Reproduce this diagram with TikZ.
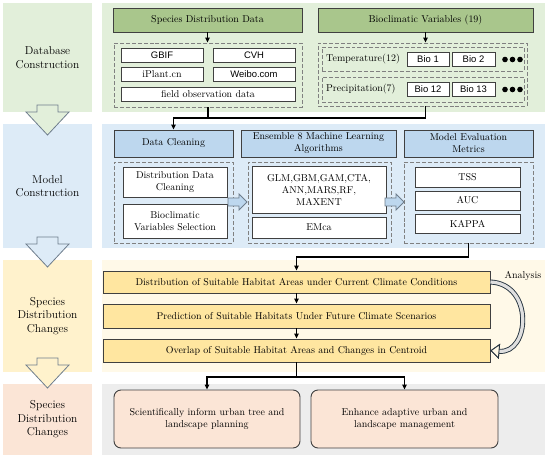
\documentclass[tikz,border=0pt]{standalone}
\usepackage{fontspec}
\newfontfamily\arialf{Liberation Sans}
\usetikzlibrary{arrows.meta}

\definecolor{grnbg}{RGB}{226,239,218}
\definecolor{grnhd}{RGB}{169,198,140}
\definecolor{blubg}{RGB}{221,235,247}
\definecolor{bluhd}{RGB}{189,215,238}
\definecolor{ylwbg}{RGB}{255,242,204}
\definecolor{ylwlt}{RGB}{255,249,232}
\definecolor{ylwbx}{RGB}{255,230,160}
\definecolor{pnkbg}{RGB}{251,229,214}
\definecolor{grybg}{RGB}{237,237,237}
\definecolor{edgec}{RGB}{64,64,64}
\definecolor{slate}{RGB}{38,52,64}
\definecolor{arrln}{RGB}{110,125,140}

\def\fs{\fontsize{10}{12}\selectfont}
\tikzstyle{pnl}=[rectangle,inner sep=0pt,align=center,font=\fontsize{11.5}{13.5}\selectfont]
\tikzstyle{hd}=[rectangle,draw=edgec,line width=0.9pt,inner sep=1pt,align=center,font=\fs]
\tikzstyle{dsh}=[rectangle,draw=gray,line width=0.9pt,dash pattern=on 4pt off 2pt]
\tikzstyle{wb}=[rectangle,draw=edgec,fill=white,line width=0.7pt,inner sep=1pt,align=center,font=\fs]
\tikzstyle{wbs}=[wb,font=\arialf\fontsize{9.5}{11}\selectfont]
\tikzstyle{yb}=[hd,fill=ylwbx]
\tikzstyle{pk}=[hd,fill=pnkbg,rounded corners=7bp]
\tikzstyle{arr}=[-{Triangle[length=5bp,width=4.5bp]},line width=1.1pt,black]
\tikzstyle{ln}=[line width=1.1pt,black]
\tikzstyle{blk}=[draw=arrln,line width=0.8pt]
\tikzstyle{anl}=[-{Triangle[length=9bp,width=15bp,line width=0.9bp,fill=ylwlt,color=slate]}]
\tikzset{sz/.style 2 args={minimum width=#1bp,minimum height=#2bp}}

% block arrows
\newcommand{\dnarr}[3]{\draw[blk,fill=#3] (#1-10.5,#2) -- (#1+10.5,#2) -- (#1+10.5,#2+7) -- (#1+21.5,#2+7) -- (#1,#2+30) -- (#1-21.5,#2+7) -- (#1-10.5,#2+7) -- cycle;}
\newcommand{\rtarr}[2]{\draw[blk,fill=bluhd] (#1,#2-4) -- (#1+11,#2-4) -- (#1+11,#2-8) -- (#1+19,#2) -- (#1+11,#2+8) -- (#1+11,#2+4) -- (#1,#2+4) -- cycle;}

\begin{document}
\begin{tikzpicture}[x=1bp,y=-1bp]
\useasboundingbox (0,0) rectangle (550,459);

% panels
\node[pnl,fill=grnbg,sz={89}{109}](dbL) at (47.5,57.5){Database\\Construction};
\node[pnl,fill=grnbg,sz={443}{109}](dbR) at (323.5,57.5){};
\node[pnl,fill=blubg,sz={89}{124}](mcL) at (47.5,186){Model\\Construction};
\node[pnl,fill=blubg,sz={443}{124}](mcR) at (323.5,186){};
\node[pnl,fill=ylwbg,sz={89}{112}](sdL) at (47.5,316){Species\\Distribution\\Changes};
\node[pnl,fill=ylwlt,sz={443}{112}](sdR) at (323.5,316){};
\node[pnl,fill=pnkbg,sz={89}{71}](ocL) at (47.5,419.5){Species\\Distribution\\Changes};
\node[pnl,fill=grybg,sz={443}{71}](ocR) at (323.5,419.5){};

\dnarr{47.5}{105}{grnbg}
\dnarr{47.5}{237}{blubg}
\dnarr{47.5}{358}{ylwbg}

% database construction
\node[hd,fill=grnhd,sz={189}{24}](sdd) at (207.5,20){Species Distribution Data};
\node[hd,fill=grnhd,sz={215}{24}](bcv) at (425.5,20){Bioclimatic Variables (19)};
\node[dsh,sz={188}{64}](sddash) at (208,75){};
\node[wbs,sz={82}{14}](gbif) at (162,55){GBIF};
\node[wbs,sz={82}{14}](cvh) at (254,55){CVH};
\node[wb,sz={82}{14}](iplant) at (162,74){iPlant.cn};
\node[wbs,sz={82}{14}](weibo) at (254,74){Weibo.com};
\node[wb,sz={174}{14}](field) at (208,94){field observation data};
\node[dsh,sz={209}{63}](bcdash) at (422.5,74.5){};
\node[dsh,sz={202}{24}](temprow) at (423,59){};
\node[dsh,sz={202}{25}](precrow) at (423,89.5){};
\node[anchor=west,inner sep=0pt,font=\fs](tlab) at (326,59){Temperature(12)};
\node[anchor=west,inner sep=0pt,font=\fs](plab) at (326,89.5){Precipitation(7)};
\node[wbs,sz={42}{14}](bio1) at (428,59.5){Bio 1};
\node[wbs,sz={43}{14}](bio2) at (473.5,59.5){Bio 2};
\node[wbs,sz={42}{14}](bio12) at (428,89.5){Bio 12};
\node[wbs,sz={43}{14}](bio13) at (473.5,89.5){Bio 13};
\foreach \i in {0,1,2}{
  \fill (505+7.5*\i,59.5) circle (2.8bp);
  \fill (505+7.5*\i,89.5) circle (2.8bp);
}
\draw[arr](sdd.south)--(sddash.north -| sdd.south);
\draw[arr](bcv.south)--(bcdash.north -| bcv.south);

% model construction
\node[hd,fill=bluhd,sz={119}{27}](dc) at (173.5,143.5){Data Cleaning};
\node[hd,fill=bluhd,sz={155}{27}](ens) at (318.5,143.5){Ensemble 8 Machine Learning\\Algorithms};
\node[hd,fill=bluhd,sz={129}{27}](mem) at (468.5,143.5){Model Evaluation\\Metrics};
\node[dsh,sz={119}{81}](dcdash) at (173.5,202.5){};
\node[dsh,sz={143}{81}](ensdash) at (319.5,202.5){};
\node[dsh,sz={129}{81}](memdash) at (468.5,202.5){};
\node[wb,sz={104}{30}](ddc) at (175,182){Distribution Data\\Cleaning};
\node[wb,sz={104}{34}](bvs) at (175,221){Bioclimatic\\Variables Selection};
\node[wb,sz={134}{47}](glm) at (319,189.5){GLM,GBM,GAM,CTA,\\ANN,MARS,RF,\\MAXENT};
\node[wb,sz={134}{21}](emca) at (319,227.5){EMca};
\node[wb,sz={105}{20}](tss) at (467.5,177){TSS};
\node[wb,sz={105}{19}](auc) at (467.5,200.5){AUC};
\node[wb,sz={105}{19}](kappa) at (467.5,223.5){KAPPA};
\rtarr{228}{202}
\rtarr{385}{202}

\coordinate (j1) at (173.5,118);
\draw[ln](sddash.south)--(sddash.south |- j1);
\draw[arr](bcdash.south -| bcv.south) |- (j1) -- (dc.north);

% species distribution changes
\node[yb,sz={387}{22}](dist) at (296.5,282){Distribution of Suitable Habitat Areas under Current Climate Conditions};
\node[yb,sz={387}{24}](pred) at (296.5,316){Prediction of Suitable Habitats Under Future Climate Scenarios};
\node[yb,sz={387}{23}](over) at (296.5,350.5){Overlap of Suitable Habitat Areas and Changes in Centroid};
\coordinate (j2) at (296.5,257);
\draw[arr](memdash.south) |- (j2) -- (dist.north);
\draw[arr](dist)--(pred);
\draw[arr](pred)--(over);

\draw[anl,line width=5bp,slate](dist.east) .. controls (534,284) and (530,354) .. (over.east);
\draw[anl,line width=3.2bp,gray!25](dist.east) .. controls (534,284) and (530,354) .. (over.east);
\node[font=\fs,inner sep=0pt](anlab) at (523,276){Analysis};

% outcomes
\node[pk,sz={186}{58}](sci) at (207,419){Scientifically inform urban tree and\\landscape planning};
\node[pk,sz={187}{58}](enh) at (404.5,419){Enhance adaptive urban and\\landscape management};
\coordinate (j3) at (296.5,377);
\draw[ln](over.south)--(j3);
\draw[arr](j3) -| (sci.north);
\draw[arr](j3) -| (enh.north);
\end{tikzpicture}
\end{document}
